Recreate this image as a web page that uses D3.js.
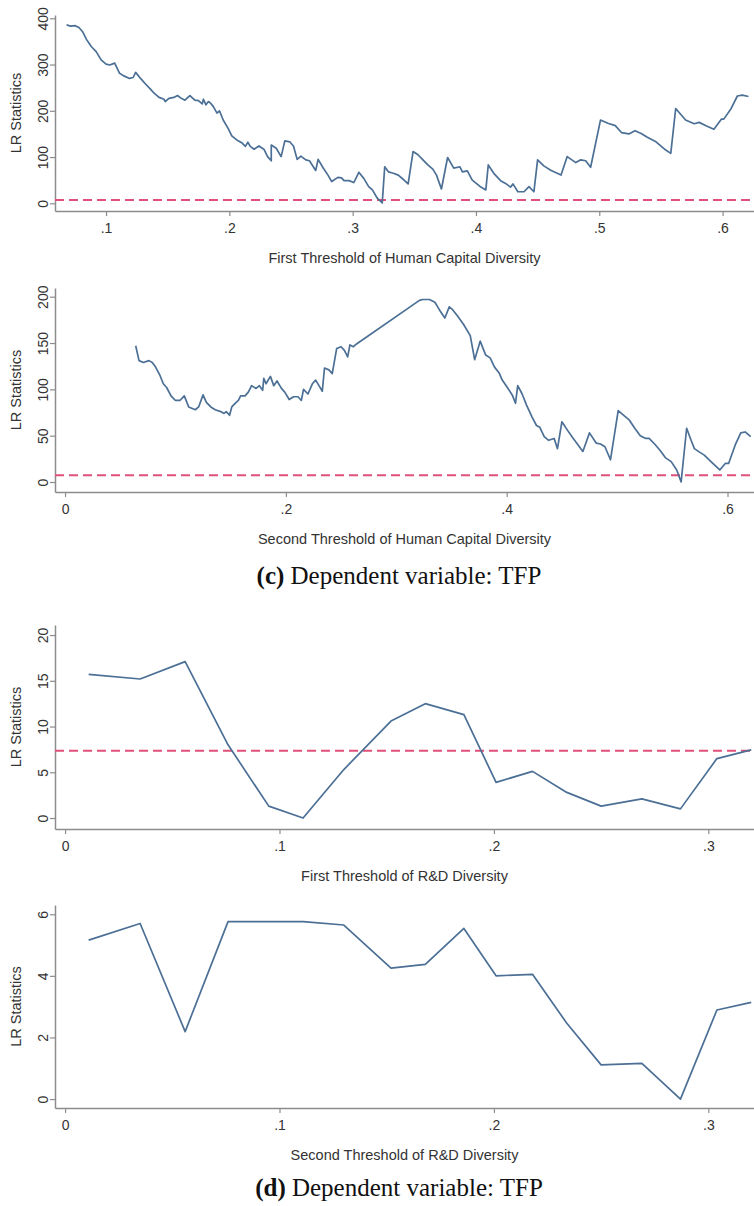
<!DOCTYPE html>
<html>
<head>
<meta charset="utf-8">
<script src="https://cdn.jsdelivr.net/npm/d3@7"></script>
<style>
  body { margin: 0; background: #fff; }
  svg { display: block; }
</style>
</head>
<body>
<script>
// LR statistic threshold scans
const criticalLR = 7.35

// (c) first threshold, human capital diversity
const hcFirstX = [0.068, 0.071, 0.075, 0.078, 0.081, 0.084, 0.088, 0.092, 0.096, 0.100, 0.103, 0.107, 0.111, 0.114, 0.119, 0.122, 0.124, 0.128, 0.132, 0.136, 0.139, 0.143, 0.147, 0.148, 0.151, 0.155, 0.158, 0.161, 0.164, 0.168, 0.172, 0.175, 0.178, 0.179, 0.181, 0.183, 0.185, 0.187, 0.190, 0.192, 0.195, 0.199, 0.202, 0.206, 0.210, 0.213, 0.215, 0.217, 0.220, 0.224, 0.228, 0.231, 0.234, 0.234, 0.238, 0.242, 0.245, 0.249, 0.252, 0.255, 0.258, 0.262, 0.265, 0.270, 0.272, 0.276, 0.280, 0.283, 0.288, 0.291, 0.293, 0.297, 0.301, 0.305, 0.309, 0.313, 0.316, 0.320, 0.324, 0.326, 0.329, 0.333, 0.337, 0.341, 0.345, 0.349, 0.353, 0.357, 0.361, 0.365, 0.368, 0.372, 0.377, 0.382, 0.387, 0.389, 0.393, 0.397, 0.403, 0.408, 0.410, 0.415, 0.420, 0.424, 0.428, 0.430, 0.434, 0.439, 0.443, 0.447, 0.450, 0.455, 0.461, 0.469, 0.474, 0.481, 0.485, 0.489, 0.493, 0.501, 0.507, 0.513, 0.518, 0.524, 0.529, 0.534, 0.539, 0.546, 0.553, 0.558, 0.562, 0.570, 0.577, 0.581, 0.587, 0.593, 0.599, 0.601, 0.607, 0.612, 0.616, 0.621]
const hcFirstLR = [386, 383, 384, 380, 371, 355, 339, 328, 310, 301, 299, 303, 281, 276, 270, 272, 283, 270, 258, 247, 238, 229, 225, 220, 227, 229, 233, 227, 223, 233, 223, 222, 215, 225, 213, 220, 216, 209, 195, 200, 180, 162, 146, 137, 131, 123, 132, 123, 117, 124, 117, 101, 92, 126, 119, 101, 135, 133, 124, 95, 102, 94, 92, 71, 95, 77, 61, 47, 56, 55, 49, 49, 45, 67, 54, 36, 29, 11, 1, 79, 68, 65, 61, 52, 42, 112, 105, 94, 83, 74, 61, 31, 99, 76, 79, 68, 70, 50, 37, 29, 83, 63, 49, 43, 35, 42, 25, 25, 36, 25, 94, 81, 71, 61, 101, 88, 94, 92, 78, 180, 173, 168, 153, 150, 157, 151, 143, 133, 117, 108, 205, 180, 172, 175, 167, 160, 182, 182, 205, 232, 234, 231]

// (c) second threshold, human capital diversity
const hcSecondX = [0.064, 0.067, 0.071, 0.076, 0.079, 0.082, 0.086, 0.089, 0.092, 0.096, 0.100, 0.104, 0.108, 0.110, 0.112, 0.118, 0.121, 0.125, 0.128, 0.132, 0.136, 0.141, 0.144, 0.146, 0.149, 0.151, 0.155, 0.157, 0.159, 0.163, 0.166, 0.169, 0.173, 0.176, 0.179, 0.180, 0.182, 0.186, 0.189, 0.192, 0.196, 0.199, 0.203, 0.207, 0.211, 0.214, 0.216, 0.220, 0.224, 0.227, 0.230, 0.233, 0.235, 0.239, 0.242, 0.246, 0.250, 0.253, 0.256, 0.258, 0.261, 0.264, 0.321, 0.324, 0.330, 0.335, 0.339, 0.344, 0.348, 0.351, 0.355, 0.361, 0.367, 0.371, 0.376, 0.381, 0.385, 0.389, 0.393, 0.396, 0.400, 0.405, 0.408, 0.410, 0.414, 0.418, 0.423, 0.427, 0.430, 0.434, 0.438, 0.443, 0.446, 0.450, 0.455, 0.459, 0.464, 0.469, 0.475, 0.481, 0.485, 0.489, 0.494, 0.501, 0.506, 0.511, 0.516, 0.521, 0.526, 0.529, 0.534, 0.539, 0.544, 0.549, 0.554, 0.558, 0.563, 0.567, 0.570, 0.575, 0.579, 0.585, 0.593, 0.598, 0.601, 0.607, 0.612, 0.616, 0.621]
const hcSecondLR = [147, 131, 129, 131, 129, 124, 115, 106, 102, 93, 88, 88, 93, 87, 81, 78, 81, 94, 86, 81, 78, 76, 74, 76, 72, 81, 86, 88, 93, 93, 97, 104, 101, 104, 99, 112, 106, 114, 104, 109, 101, 97, 89, 92, 92, 88, 100, 95, 106, 110, 104, 98, 123, 121, 117, 144, 146, 142, 135, 148, 146, 149, 196, 197, 197, 194, 186, 177, 189, 186, 180, 170, 158, 132, 152, 137, 134, 124, 118, 110, 103, 94, 85, 104, 95, 83, 70, 61, 59, 49, 45, 47, 36, 65, 56, 49, 41, 33, 53, 42, 41, 38, 24, 77, 72, 67, 58, 50, 47, 47, 41, 34, 26, 22, 13, 0, 58, 45, 36, 32, 29, 22, 13, 20, 20, 40, 53, 54, 49]

// (d) R&D diversity, both thresholds share the grid
const rdX = [0.011, 0.035, 0.056, 0.076, 0.095, 0.111, 0.130, 0.152, 0.168, 0.186, 0.201, 0.218, 0.234, 0.250, 0.269, 0.287, 0.304, 0.320]
const rdFirstLR = [15.7, 15.2, 17.1, 8.0, 1.3, 0.0, 5.3, 10.6, 12.5, 11.3, 3.9, 5.1, 2.8, 1.3, 2.1, 1.0, 6.5, 7.45]
const rdSecondLR = [5.16, 5.70, 2.19, 5.76, 5.76, 5.76, 5.65, 4.25, 4.37, 5.54, 4.00, 4.05, 2.46, 1.11, 1.16, 0.0, 2.89, 3.14]

const hcXTicks = [0.1, 0.2, 0.3, 0.4, 0.5, 0.6]
const hcXTicks2 = [0, 0.2, 0.4, 0.6]
const rdXTicks = [0, 0.1, 0.2, 0.3]

const W = 754
const H = 1206
const LEFT = 55
const RIGHT = 754
const LINE_COLOR = '#4b6f95'
const DASH_COLOR = '#e0507a'
const SANS = "'Liberation Sans', Arial, sans-serif"
const SERIF = "'Liberation Serif', 'Times New Roman', serif"

const panels = [
  { xs: hcFirstX, ys: hcFirstLR, xDomain: [0.0586, 0.6255], xTicks: hcXTicks, yDomain: [-16.6, 407.1], yTicks: [0, 100, 200, 300, 400], top: 15, axisY: 211, title: 'First Threshold of Human Capital Diversity', dashed: true },
  { xs: hcSecondX, ys: hcSecondLR, xDomain: [-0.0091, 0.624], xTicks: hcXTicks2, yDomain: [-10.8, 209.4], yTicks: [0, 50, 100, 150, 200], top: 288, axisY: 492, title: 'Second Threshold of Human Capital Diversity', dashed: true },
  { xs: rdX, ys: rdFirstLR, xDomain: [-0.0047, 0.3213], xTicks: rdXTicks, yDomain: [-1.2, 21.1], yTicks: [0, 5, 10, 15, 20], top: 625, axisY: 829, title: 'First Threshold of R&D Diversity', dashed: true },
  { xs: rdX, ys: rdSecondLR, xDomain: [-0.0047, 0.3213], xTicks: rdXTicks, yDomain: [-0.29, 6.3], yTicks: [0, 2, 4, 6], top: 905, axisY: 1108, title: 'Second Threshold of R&D Diversity', dashed: false }
]

const captions = [
  { label: '(c)', text: ' Dependent variable: TFP', y: 584 },
  { label: '(d)', text: ' Dependent variable: TFP', y: 1196 }
]

const stataFormat = d => d === 0 ? '0' : d3.format('.1f')(d).replace(/^0/, '')

const svg = d3.select('body').append('svg')
  .attr('width', W)
  .attr('height', H)
  .attr('viewBox', [0, 0, W, H].join(' '))

svg.append('rect').attr('width', W).attr('height', H).attr('fill', '#fff')

panels.forEach(p => {
  const x = d3.scaleLinear().domain(p.xDomain).range([LEFT, RIGHT])
  const y = d3.scaleLinear().domain(p.yDomain).range([p.axisY, p.top])

  const g = svg.append('g')

  // x axis
  const gx = g.append('g')
    .attr('transform', `translate(0, ${p.axisY})`)
    .call(d3.axisBottom(x).tickValues(p.xTicks).tickSize(5).tickSizeOuter(0).tickFormat(stataFormat))
  gx.select('.domain').attr('stroke', '#8c8c8c').attr('stroke-width', 1.5)
  gx.selectAll('.tick line').attr('stroke', '#8c8c8c').attr('stroke-width', 1.2)
  gx.selectAll('.tick text')
    .attr('y', 22).attr('dy', 0)
    .attr('fill', '#333')
    .style('font-family', SANS).style('font-size', '14px')

  // y axis, rotated labels like Stata
  const gy = g.append('g')
    .attr('transform', `translate(${LEFT}, 0)`)
    .call(d3.axisLeft(y).tickValues(p.yTicks).tickSize(5).tickSizeOuter(0).tickFormat(d3.format('d')))
  gy.select('.domain').attr('stroke', '#8c8c8c').attr('stroke-width', 1.5)
  gy.selectAll('.tick line').attr('stroke', '#8c8c8c').attr('stroke-width', 1.2)
  gy.selectAll('.tick text')
    .attr('transform', 'rotate(-90)')
    .attr('x', 0).attr('y', -7).attr('dy', 0)
    .attr('text-anchor', 'middle')
    .attr('fill', '#333')
    .style('font-family', SANS).style('font-size', '14px')

  // axis titles
  g.append('text')
    .attr('x', (LEFT + RIGHT) / 2)
    .attr('y', p.axisY + 52)
    .attr('text-anchor', 'middle')
    .attr('fill', '#333')
    .style('font-family', SANS).style('font-size', '14.5px')
    .text(p.title)

  g.append('text')
    .attr('transform', `translate(21, ${(p.top + p.axisY) / 2}) rotate(-90)`)
    .attr('text-anchor', 'middle')
    .attr('fill', '#333')
    .style('font-family', SANS).style('font-size', '14.5px')
    .text('LR Statistics')

  // critical value
  if (p.dashed) {
    g.append('line')
      .attr('x1', LEFT).attr('x2', RIGHT)
      .attr('y1', y(criticalLR)).attr('y2', y(criticalLR))
      .attr('stroke', DASH_COLOR)
      .attr('stroke-width', 2)
      .attr('stroke-dasharray', '9,5')
  }

  const line = d3.line()
    .x(i => x(p.xs[i]))
    .y(i => y(p.ys[i]))

  g.append('path')
    .datum(d3.range(p.xs.length))
    .attr('d', line)
    .attr('fill', 'none')
    .attr('stroke', LINE_COLOR)
    .attr('stroke-width', 1.7)
    .attr('stroke-linejoin', 'round')
})

captions.forEach(c => {
  const t = svg.append('text')
    .attr('x', 399)
    .attr('y', c.y)
    .attr('text-anchor', 'middle')
    .attr('fill', '#111')
    .style('font-family', SERIF).style('font-size', '25px')
  t.append('tspan').attr('font-weight', 'bold').text(c.label)
  t.append('tspan').text(c.text)
})
</script>
</body>
</html>
